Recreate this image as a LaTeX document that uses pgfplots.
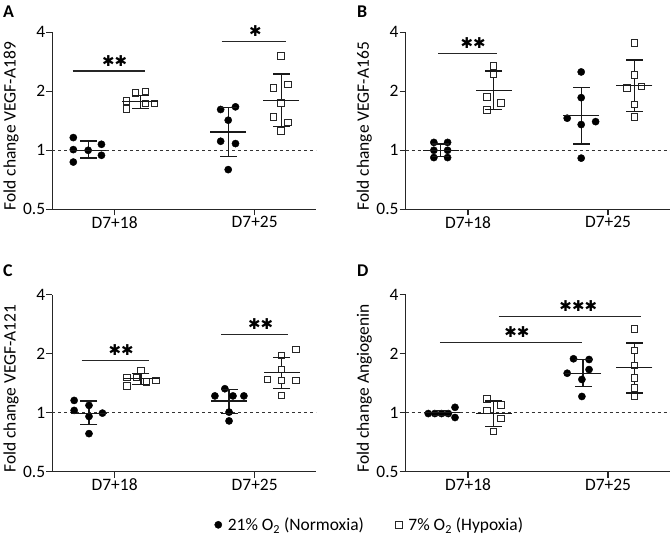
\documentclass[border=0pt]{standalone}
\usepackage{fontspec}
\setmainfont{Carlito}
\newfontfamily\symfont{DejaVu Sans}
\usepackage{pgfplots}
\pgfplotsset{compat=1.18}
\pgfplotsset{/pgf/number format/assume math mode=true}
\pgfplotsset{
  panelstyle/.style={
    scale only axis, width=264bp, height=177bp,
    xmin=-0.445, xmax=1.44, ymin=0.5, ymax=4,
    ytick={0.5,1,2,4}, yticklabels={0.5,1,2,4},
    xtick={0,1}, xticklabels={D7+18,D7+25},
    axis lines=left,
    axis line style={-, line width=1.2bp, black!85},
    tick align=outside, major tick length=6bp,
    tick style={line width=1.2bp, black!85},
    clip=false,
    font=\fontsize{17.5}{20}\selectfont,
    yticklabel style={inner sep=1bp},
    xticklabel style={inner sep=1bp},
    every axis y label/.style={at={(axis description cs:-0.1565,0.47)}, rotate=90, anchor=center},
    anchor=south west,
  },
  circ/.style={only marks, mark=*, mark size=3.6bp, black, mark options={fill=black}},
  sqr/.style={only marks, mark=square*, mark size=3.3bp, black!85, mark options={fill=white, draw=black!85, line width=0.9bp}},
  ebar/.style={forget plot, black!90, line width=1.2bp, mark=-, mark size=8.5bp},
  mline/.style={forget plot, only marks, black!90, line width=1.2bp, mark=-, mark size=18bp},
  dline/.style={forget plot, black!80, line width=0.9bp, dash pattern=on 3bp off 3bp},
}
\tikzset{
  sig/.style={black!85, line width=1.2bp},
  ast/.style={font=\symfont\fontsize{15}{15}\selectfont, anchor=base, inner sep=0pt, yshift=5bp},
}
\begin{document}
\begin{tikzpicture}[x=1bp,y=1bp]
\useasboundingbox (0,0) rectangle (670,537);

% ---------------- A ----------------
\begin{axis}[panelstyle, ymode=log, log basis y=2, at={(52.3bp,327.7bp)}, ylabel={Fold change VEGF-A189}]
\addplot[dline] coordinates {(-0.445,1) (1.44,1)};
\addplot[circ] coordinates {(-0.295,1.161) (-0.295,1.008) (-0.295,0.871) (-0.189,1.0) (-0.094,1.073) (-0.094,0.943)
  (0.757,1.615) (0.863,1.666) (0.811,1.424) (0.757,1.112) (0.863,1.082) (0.811,0.797)};
\addplot[sqr] coordinates {(0.149,1.96) (0.22,2.0) (0.083,1.78) (0.083,1.62) (0.22,1.73) (0.284,1.73)
  (1.189,3.03) (1.135,2.08) (1.236,2.17) (1.189,1.75) (1.135,1.48) (1.236,1.39) (1.189,1.255)};
\addplot[ebar] coordinates {(-0.189,0.913) (-0.189,1.116)};
\addplot[mline] coordinates {(-0.189,1.0)};
\addplot[ebar] coordinates {(0.811,0.932) (0.811,1.646)};
\addplot[mline] coordinates {(0.811,1.24)};
\addplot[ebar] coordinates {(0.184,1.63) (0.184,1.91)};
\addplot[mline] coordinates {(0.184,1.77)};
\addplot[ebar] coordinates {(1.189,1.327) (1.189,2.45)};
\addplot[mline] coordinates {(1.189,1.80)};
\draw[sig] (axis cs:-0.30,2.536) -- (axis cs:0.218,2.536);
\node[ast] at (axis cs:0.0,2.536) {✱✱};
\draw[sig] (axis cs:0.764,3.58) -- (axis cs:1.222,3.58);
\node[ast] at (axis cs:1.005,3.58) {✱};
\end{axis}

% ---------------- B ----------------
\begin{axis}[panelstyle, ymode=log, log basis y=2, at={(405.7bp,327.7bp)}, ylabel={Fold change VEGF-A165}]
\addplot[dline] coordinates {(-0.445,1) (1.44,1)};
\addplot[circ] coordinates {(-0.244,1.097) (-0.244,1.0) (-0.244,0.918) (-0.146,1.097) (-0.146,1.0) (-0.146,0.918)
  (0.808,2.51) (0.808,1.856) (0.708,1.458) (0.808,1.353) (0.911,1.40) (0.808,0.912)};
\addplot[sqr] coordinates {(0.182,2.69) (0.182,2.45) (0.134,1.87) (0.235,1.74) (0.134,1.61)
  (1.187,3.54) (1.187,2.42) (1.136,2.08) (1.239,2.12) (1.187,1.71) (1.187,1.475)};
\addplot[ebar] coordinates {(-0.196,0.926) (-0.196,1.076)};
\addplot[mline] coordinates {(-0.196,1.0)};
\addplot[ebar] coordinates {(0.808,1.076) (0.808,2.10)};
\addplot[mline] coordinates {(0.808,1.505)};
\addplot[ebar] coordinates {(0.182,1.61) (0.182,2.54)};
\addplot[mline] coordinates {(0.182,2.02)};
\addplot[ebar] coordinates {(1.187,1.58) (1.187,2.89)};
\addplot[mline] coordinates {(1.187,2.15)};
\draw[sig] (axis cs:-0.212,3.13) -- (axis cs:0.206,3.13);
\node[ast] at (axis cs:0.037,3.13) {✱✱};
\end{axis}

% ---------------- C ----------------
\begin{axis}[panelstyle, ymode=log, log basis y=2, at={(52.3bp,65.3bp)}, ylabel={Fold change VEGF-A121},
  legend style={at={(1.203,-0.30)}, anchor=center, draw=none, fill=none, inner sep=0pt,
    legend columns=2, font=\fontsize{17.5}{20}\selectfont,
    /tikz/every odd column/.append style={column sep=4bp},
    /tikz/every even column/.append style={column sep=30bp}},
  legend image code/.code={\draw[mark repeat=2,mark phase=2,#1] plot coordinates {(0bp,0bp)(5bp,0bp)(10bp,0bp)};},
  ]
\addplot[circ] coordinates {(-0.289,1.155) (-0.289,1.027) (-0.183,1.09) (-0.183,0.957) (-0.087,0.995) (-0.183,0.782)
  (0.716,1.218) (0.787,1.325) (0.845,1.218) (0.923,1.218) (0.817,1.007) (0.817,0.908)};
\addplot[sqr] coordinates {(0.089,1.51) (0.089,1.37) (0.155,1.51) (0.188,1.64) (0.227,1.435) (0.294,1.46)
  (1.296,2.105) (1.192,1.96) (1.192,1.66) (1.092,1.48) (1.192,1.46) (1.296,1.46) (1.192,1.225)};
\legend{21\% O\textsubscript{2} (Normoxia), 7\% O\textsubscript{2} (Hypoxia)}
\addplot[dline] coordinates {(-0.445,1) (1.44,1)};
\addplot[ebar] coordinates {(-0.183,0.872) (-0.183,1.146)};
\addplot[mline] coordinates {(-0.183,0.99)};
\addplot[ebar] coordinates {(0.817,0.988) (0.817,1.31)};
\addplot[mline] coordinates {(0.817,1.146)};
\addplot[ebar] coordinates {(0.188,1.39) (0.188,1.58)};
\addplot[mline] coordinates {(0.188,1.49)};
\addplot[ebar] coordinates {(1.192,1.325) (1.192,1.92)};
\addplot[mline] coordinates {(1.192,1.61)};
\draw[sig] (axis cs:-0.235,1.85) -- (axis cs:0.242,1.85);
\node[ast] at (axis cs:0.047,1.85) {✱✱};
\draw[sig] (axis cs:0.763,2.505) -- (axis cs:1.239,2.505);
\node[ast] at (axis cs:1.042,2.505) {✱✱};
\end{axis}

% ---------------- D ----------------
\begin{axis}[panelstyle, ymode=log, log basis y=2, at={(405.7bp,65.3bp)}, ylabel={Fold change Angiogenin}]
\addplot[dline] coordinates {(-0.445,1) (1.44,1)};
\addplot[circ] coordinates {(-0.284,0.99) (-0.237,0.99) (-0.189,0.99) (-0.141,0.99) (-0.093,1.065) (-0.093,0.945)
  (0.753,1.884) (0.864,1.868) (0.708,1.59) (0.864,1.66) (0.813,1.478) (0.813,1.21)};
\addplot[sqr] coordinates {(0.134,1.178) (0.235,1.098) (0.134,1.027) (0.235,0.936) (0.182,0.803)
  (1.187,2.68) (1.187,2.08) (1.187,1.74) (1.187,1.507) (1.187,1.335) (1.187,1.21)};
\addplot[ebar] coordinates {(-0.189,0.97) (-0.189,1.03)};
\addplot[mline] coordinates {(-0.189,1.0)};
\addplot[ebar] coordinates {(0.821,1.36) (0.821,1.868)};
\addplot[mline] coordinates {(0.821,1.59)};
\addplot[ebar] coordinates {(0.182,0.852) (0.182,1.146)};
\addplot[mline] coordinates {(0.182,0.995)};
\addplot[ebar] coordinates {(1.187,1.26) (1.187,2.27)};
\addplot[mline] coordinates {(1.187,1.695)};
\draw[sig] (axis cs:-0.201,2.29) -- (axis cs:0.816,2.29);
\node[ast] at (axis cs:0.348,2.29) {✱✱};
\draw[sig] (axis cs:0.218,3.09) -- (axis cs:1.234,3.09);
\node[ast] at (axis cs:0.787,3.09) {✱✱✱};
\end{axis}

\node[font=\bfseries\fontsize{18}{20}\selectfont, anchor=base west, inner sep=0pt] at (3,519) {A};
\node[font=\bfseries\fontsize{18}{20}\selectfont, anchor=base west, inner sep=0pt] at (357,519) {B};
\node[font=\bfseries\fontsize{18}{20}\selectfont, anchor=base west, inner sep=0pt] at (3,260) {C};
\node[font=\bfseries\fontsize{18}{20}\selectfont, anchor=base west, inner sep=0pt] at (357,260) {D};
\end{tikzpicture}
\end{document}
